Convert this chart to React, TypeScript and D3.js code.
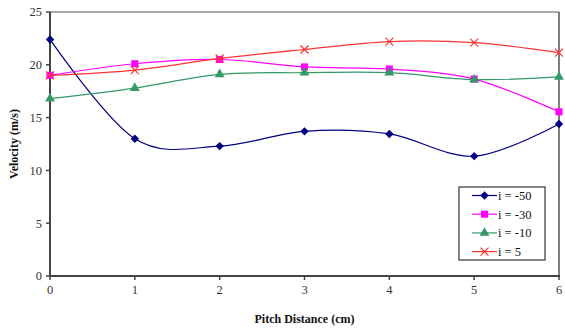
import { scaleLinear, line, curveCardinal, symbol, symbolSquare, symbolTriangle } from 'd3'

const xValues = [0, 1, 2, 3, 4, 5, 6]
const seriesNames = ['i = -50', 'i = -30', 'i = -10', 'i = 5']
const vMinus50 = [22.4, 13.0, 12.3, 13.7, 13.45, 11.35, 14.4]
const vMinus30 = [19.0, 20.1, 20.5, 19.8, 19.6, 18.65, 15.55]
const vMinus10 = [16.8, 17.8, 19.1, 19.25, 19.25, 18.6, 18.85]
const vPlus5 = [19.0, 19.5, 20.6, 21.45, 22.2, 22.1, 21.15]
const yTicks = [0, 5, 10, 15, 20, 25]

const colors = ['#000080', '#ff00ff', '#339966', '#ff3333']
const allSeries = [vMinus50, vMinus30, vMinus10, vPlus5]

const W = 565
const H = 328
const margin = { left: 50, right: 4, top: 12, bottom: 52 }

const Marker = ({ kind, x, y, color }: { kind: number; x: number; y: number; color: string }) => {
  if (kind === 3) {
    const s = 4
    return (
      <g stroke={color} strokeWidth={1.2}>
        <line x1={x - s} y1={y - s} x2={x + s} y2={y + s} />
        <line x1={x - s} y1={y + s} x2={x + s} y2={y - s} />
      </g>
    )
  }
  if (kind === 0) {
    const r = 4.2
    return <path d={`M${x},${y - r}L${x + r},${y}L${x},${y + r}L${x - r},${y}Z`} fill={color} />
  }
  const types = [symbolSquare, symbolSquare, symbolTriangle]
  const sizes = [50, 50, 42]
  const d = symbol().type(types[kind]).size(sizes[kind])() || ''
  return <path d={d} transform={`translate(${x},${y})`} fill={color} />
}

export default function App() {
  const x = scaleLinear().domain([0, 6]).range([margin.left, W - margin.right - 2])
  const y = scaleLinear().domain([0, 25]).range([H - margin.bottom, margin.top])
  const path = line<number>()
    .x((_, i) => x(xValues[i]))
    .y(v => y(v))
    .curve(curveCardinal.tension(0))

  const font = '"Liberation Serif", "Times New Roman", serif'
  const x0 = x(0), x6 = x(6), yb = y(0), yt = y(25)
  const lgX = 459, lgY = 187, lgW = 86, lgH = 73, lgStep = 18.7

  return (
    <svg width={W} height={H} style={{ position: 'absolute', left: 0, top: 0, background: '#fff' }} fontFamily={font}>
      {/* frame */}
      <line x1={x0} y1={yt} x2={x6} y2={yt} stroke="#555" strokeWidth={1} />
      <line x1={x6} y1={yt} x2={x6} y2={yb} stroke="#555" strokeWidth={1.5} />
      <line x1={x0} y1={yt} x2={x0} y2={yb + 1} stroke="#444" strokeWidth={2} />
      <line x1={x0 - 1} y1={yb} x2={x6 + 1} y2={yb} stroke="#444" strokeWidth={2} />

      {yTicks.map(t => (
        <g key={t}>
          <line x1={x0 - 4} x2={x0} y1={y(t)} y2={y(t)} stroke="#444" strokeWidth={1.5} />
          <text x={x0 - 8} y={y(t)} dy="0.35em" textAnchor="end" fontSize={12.5} fill="#333">{t}</text>
        </g>
      ))}
      {xValues.map(t => (
        <g key={t}>
          <line x1={x(t)} x2={x(t)} y1={yb} y2={yb + 4} stroke="#444" strokeWidth={1.5} />
          <text x={x(t)} y={yb + 18} textAnchor="middle" fontSize={12.5} fill="#333">{t}</text>
        </g>
      ))}

      <text transform={`translate(18,${(yt + yb) / 2}) rotate(-90)`} textAnchor="middle" fontSize={12} fontWeight="bold" fill="#111">Velocity (m/s)</text>
      <text x={(x0 + x6) / 2} y={323} textAnchor="middle" fontSize={12} fontWeight="bold" fill="#111">Pitch Distance (cm)</text>

      {allSeries.map((s, k) => (
        <g key={k}>
          <path d={path(s) || ''} fill="none" stroke={colors[k]} strokeWidth={1.2} />
          {s.map((v, i) => (
            <Marker key={i} kind={k} x={x(xValues[i])} y={y(v)} color={colors[k]} />
          ))}
        </g>
      ))}

      <rect x={lgX} y={lgY} width={lgW} height={lgH} fill="#fff" stroke="#333" strokeWidth={1.2} />
      {seriesNames.map((n, k) => {
        const ly = lgY + 8.5 + k * lgStep
        return (
          <g key={n}>
            <line x1={472} x2={497} y1={ly} y2={ly} stroke={colors[k]} strokeWidth={1.2} />
            <Marker kind={k} x={484.5} y={ly} color={colors[k]} />
            <text x={498} y={ly} dy="0.35em" fontSize={12.5} fill="#111">{n}</text>
          </g>
        )
      })}
    </svg>
  )
}
